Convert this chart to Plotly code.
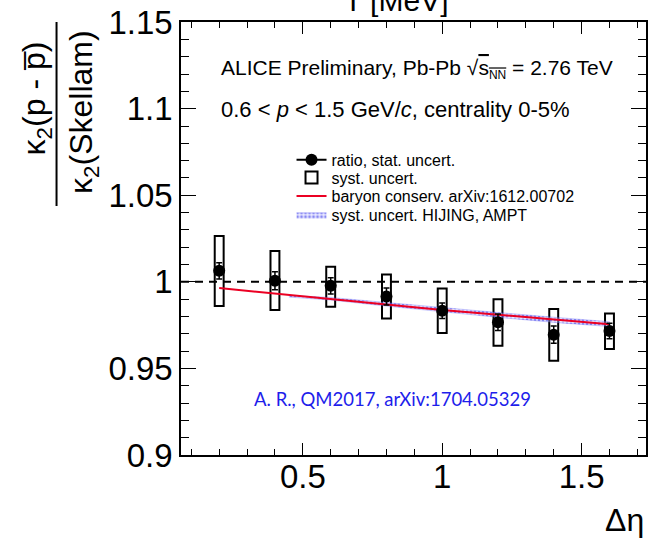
import plotly.graph_objects as go

# Second-cumulant ratio of net protons to the Skellam baseline vs. pseudorapidity gap
deta = [0.2, 0.4, 0.6, 0.8, 1.0, 1.2, 1.4, 1.6]
ratio = [1.0064, 1.0007, 0.9977, 0.9915, 0.9833, 0.9767, 0.9695, 0.9716]
stat_err = [0.0047, 0.0052, 0.0047, 0.0049, 0.0045, 0.0048, 0.0050, 0.0045]
sys_hi = [1.0265, 1.0178, 1.0087, 1.0042, 0.9962, 0.9899, 0.9843, 0.9818]
sys_lo = [0.9860, 0.9837, 0.9856, 0.9788, 0.9705, 0.9631, 0.9544, 0.9612]
sys_width = 0.032

# Baryon-number conservation expectation (arXiv:1612.00702)
baryon = [0.9964, 0.9934, 0.9902, 0.9870, 0.9838, 0.9809, 0.9780, 0.9755]

# HIJING / AMPT systematic band
band_x = [0.45, 0.6, 0.8, 1.0, 1.2, 1.4, 1.6]
band_hi = [0.9922, 0.9910, 0.9881, 0.9851, 0.9823, 0.9796, 0.9770]
band_lo = [0.9912, 0.9895, 0.9860, 0.9826, 0.9795, 0.9766, 0.9742]

reference_level = 1.0
x_range = [0.063, 1.731]
y_range = [0.9, 1.1501]
y_ticks = [0.9, 0.95, 1.0, 1.05, 1.1, 1.15]
y_ticktext = ["0.9", "0.95", "1", "1.05", "1.1", "1.15"]
x_ticks = [0.5, 1.0, 1.5]
x_ticktext = ["0.5", "1", "1.5"]

W, H = 652, 540
L, R, T, B = 181, 648, 15, 455
FONT = "Liberation Sans, Arial, Helvetica, sans-serif"


def px(x):
    return (x - L) / (R - L)


def py(y):
    return (B - y) / (B - T)


fig = go.Figure()

# systematic boxes as open bars spanning [sys_lo, sys_hi]
fig.add_trace(go.Bar(
    x=deta, base=sys_lo, y=[h - l for h, l in zip(sys_hi, sys_lo)], width=sys_width,
    marker=dict(color="rgba(255,255,255,0)", line=dict(color="black", width=2)),
    name="syst. uncert.", legend="legend2",
))
fig.add_trace(go.Scatter(
    x=band_x + band_x[::-1], y=band_hi + band_lo[::-1], mode="lines", fill="toself",
    fillcolor="rgba(150,150,255,0.35)",
    fillpattern=dict(shape=".", fgcolor="rgb(40,40,230)", bgcolor="rgba(200,200,255,0.4)", size=4, solidity=0.4),
    line=dict(color="rgba(60,60,240,0.5)", width=0.5), name="syst. uncert. HIJING, AMPT",
    legend="legend4",
))
fig.add_trace(go.Scatter(
    x=deta, y=baryon, mode="lines", line=dict(color="rgb(235,0,35)", width=2),
    name="baryon conserv. arXiv:1612.00702", legend="legend3",
))
fig.add_trace(go.Scatter(
    x=deta, y=ratio, mode="markers", showlegend=False,
    marker=dict(color="black", size=12),
    error_y=dict(type="data", array=stat_err, color="black", thickness=1.5, width=3),
))
# legend entry: marker with line through it
fig.add_trace(go.Scatter(
    x=[None], y=[None], mode="lines+markers", name="ratio, stat. uncert.",
    line=dict(color="black", width=2), marker=dict(color="black", size=12), legend="legend",
))

fig.add_shape(type="line", xref="paper", yref="y", x0=0, x1=1,
              y0=reference_level, y1=reference_level,
              line=dict(color="black", width=2, dash="8px,6px"))

# fraction bar of the y title
fig.add_shape(type="line", xref="paper", yref="paper", x0=px(56), x1=px(56),
              y0=py(15), y1=py(202), line=dict(color="black", width=2))

ann = []
ann.append(dict(text="κ<sub>2</sub>(p - p\u0305)", x=px(36), y=py(93), textangle=-90,
                font=dict(size=32)))
ann.append(dict(text="κ<sub>2</sub>(Skellam)", x=px(83), y=py(106), textangle=-90,
                font=dict(size=32)))
ann.append(dict(text="ALICE Preliminary, Pb-Pb √<span style='text-decoration:overline'>s"
                     "<sub><span style='font-size:12px'>NN</span></sub></span> = 2.76 TeV",
                x=px(219), y=py(63), xanchor="left", font=dict(size=21)))
ann.append(dict(text="0.6 < <i>p</i> < 1.5 GeV/<i>c</i>, centrality 0-5%",
                x=px(219), y=py(104), xanchor="left", font=dict(size=22)))
ann.append(dict(text="A. R., QM2017, arXiv:1704.05329", x=px(252), y=py(398), xanchor="left",
                font=dict(size=18.5, color="rgb(30,30,235)", family="Lato, Open Sans, sans-serif")))
ann.append(dict(text="Δη", x=px(648), y=py(521), xanchor="right", font=dict(size=32)))
ann.append(dict(text="T [MeV]", x=px(343), y=py(12), xanchor="left", yanchor="bottom",
                font=dict(size=30)))
for a in ann:
    a.setdefault("xref", "paper")
    a.setdefault("yref", "paper")
    a.setdefault("showarrow", False)
    a.setdefault("xanchor", "center")
    a.setdefault("yanchor", "middle")
    a["font"].setdefault("color", "black")
    a["font"].setdefault("family", FONT)
    fig.add_annotation(**a)

axis_common = dict(
    showline=True, linecolor="black", linewidth=1.5, mirror="allticks",
    ticks="inside", tickcolor="black", tickwidth=1.2,
    showgrid=False, zeroline=False, ticklabeloverflow="allow",
    tickfont=dict(size=33, family=FONT, color="black"),
)
fig.update_xaxes(range=x_range, tickvals=x_ticks, ticktext=x_ticktext, ticklen=12,
                 ticklabelstandoff=-8,
                 minor=dict(dtick=0.1, tick0=0, ticks="inside", ticklen=6, tickcolor="black", tickwidth=1.2),
                 **axis_common)
fig.update_yaxes(range=y_range, tickvals=y_ticks, ticktext=y_ticktext, ticklen=15,
                 minor=dict(dtick=0.01, tick0=0.9, ticks="inside", ticklen=8, tickcolor="black", tickwidth=1.2),
                 **axis_common)

leg_common = dict(x=px(292), xanchor="left", yanchor="middle",
                  font=dict(size=16, family=FONT, color="black"),
                  bgcolor="rgba(0,0,0,0)")
fig.update_layout(
    width=W, height=H,
    margin=dict(l=L, r=W - R, t=T, b=H - B),
    paper_bgcolor="white", plot_bgcolor="white",
    showlegend=True, barmode="overlay",
    legend=dict(y=py(155), **leg_common),
    legend2=dict(y=py(173), **leg_common),
    legend3=dict(y=py(192), **leg_common),
    legend4=dict(y=py(211), **leg_common),
)

fig.write_html("out.html")
